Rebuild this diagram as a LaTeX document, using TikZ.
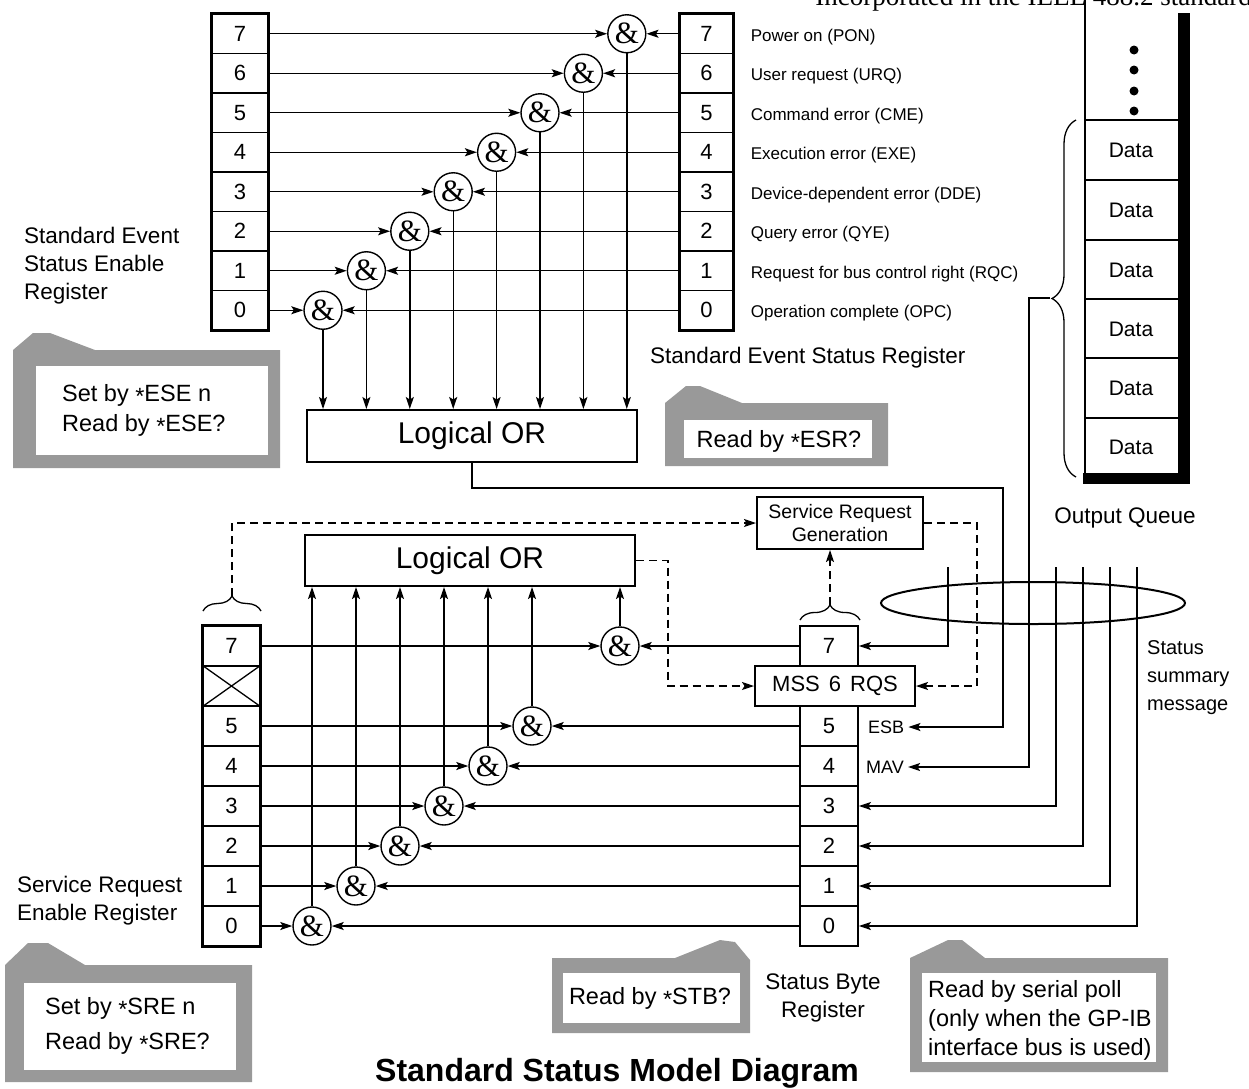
\documentclass[tikz,border=0pt]{standalone}
\usepackage{fontspec}
\setmainfont{Liberation Sans}
\newfontfamily\seriffont{Liberation Serif}
\usetikzlibrary{arrows.meta,decorations.pathreplacing,calc}
\begin{document}
\begin{tikzpicture}[x=1pt,y=-1pt,
  ln/.style={line width=1.4pt},
  arr/.style={line width=1.4pt,-{Stealth[length=12pt,width=8pt,inset=2.5pt]}},
  dsh/.style={line width=1.4pt,dash pattern=on 8pt off 5pt},
  darr/.style={dsh,-{Stealth[length=12pt,width=8pt,inset=2.5pt]}},
  cellbox/.style={draw,line width=1.3pt,minimum height=39.5pt,inner sep=0pt,font=\fontsize{22}{22}\selectfont},
  gate/.style={circle,draw,line width=1.4pt,minimum size=38pt,inner sep=0pt,font=\seriffont\fontsize{31}{31}\selectfont},
  orbox/.style={draw,line width=2pt,minimum width=330pt,minimum height=52pt,inner sep=0pt,font=\fontsize{30}{30}\selectfont},
  lbl/.style={inner sep=0pt,font=\fontsize{22.5}{28}\selectfont,align=left},
  small/.style={anchor=west,inner sep=0pt,font=\fontsize{17}{17}\selectfont},
  tagtext/.style={inner sep=0pt,font=\fontsize{23.5}{29}\selectfont,align=left},
  tagfill/.style={fill=black!40},
  brc/.style={decorate,decoration={brace,amplitude=15pt},line width=1.3pt}
]
\useasboundingbox (0,0) rectangle (1249,1088);

% header (cut off at top, as in the source)
\node[anchor=base east,inner sep=0pt,font=\seriffont\fontsize{27}{27}\selectfont] (hdr) at (1252,5) {Incorporated in the IEEE 488.2 standard};

% ---------- tags ----------
\fill[tagfill] (13,468) -- (13,350) -- (33,333) -- (50,333) -- (95,350) -- (280,350) -- (280,468) -- cycle;
\fill[white] (36,366) rectangle (268,455);
\fill[tagfill] (665,466) -- (665,403) -- (686,386) -- (700,386) -- (742,403) -- (888,403) -- (888,466) -- cycle;
\fill[white] (684,420) rectangle (872,458);
\fill[tagfill] (5,1082) -- (5,965) -- (28,943) -- (48,943) -- (85,965) -- (252,965) -- (252,1082) -- cycle;
\fill[white] (24,983) rectangle (236,1070);
\fill[tagfill] (552,1033) -- (552,958) -- (675,958) -- (720,940) -- (735,942) -- (750,960) -- (750,1033) -- cycle;
\fill[white] (563,973) rectangle (740,1023);
\fill[tagfill] (910,1072) -- (910,958) -- (948,940) -- (962,940) -- (985,958) -- (1168,958) -- (1168,1072) -- cycle;
\fill[white] (922,973) rectangle (1156,1062);

\node[tagtext,anchor=west] (t1a) at (62,395) {Set by \raisebox{-0.25ex}{*}ESE n};
\node[tagtext,anchor=west] (t1b) at (62,425) {Read by \raisebox{-0.25ex}{*}ESE?};
\node[tagtext] (t2) at (779,441) {Read by \raisebox{-0.25ex}{*}ESR?};
\node[tagtext,anchor=west] (t3a) at (45,1008) {Set by \raisebox{-0.25ex}{*}SRE n};
\node[tagtext,anchor=west] (t3b) at (45,1043) {Read by \raisebox{-0.25ex}{*}SRE?};
\node[tagtext] (t4) at (650,998) {Read by \raisebox{-0.25ex}{*}STB?};
\node[tagtext,anchor=west] (t5) at (928,1020) {Read by serial poll\\(only when the GP-IB\\interface bus is used)};

% ---------- upper part ----------
\node[orbox] (uor) at (472,436) {Logical OR};
\foreach \k in {0,...,7} {
  \pgfmathsetmacro\yy{33.75+39.5*(7-\k)}
  \pgfmathsetmacro\gx{323+43.4*\k}
  \node[cellbox,minimum width=56pt] (ese\k) at (240,\yy) {\k};
  \node[cellbox,minimum width=53pt] (esr\k) at (706.5,\yy) {\k};
  \node[gate] (ug\k) at (\gx,\yy) {\&};
}
\draw[line width=2.2pt] (ese7.north west) rectangle (ese0.south east);
\draw[line width=2.2pt] (esr7.north west) rectangle (esr0.south east);
\foreach \k in {0,...,7} {
  \draw[arr] (ese\k.east) -- (ug\k.west);
  \draw[arr] (esr\k.west) -- (ug\k.east);
  \draw[arr] (ug\k.south) -- (ug\k.south |- uor.north);
}
\foreach \k/\t in {7/Power on (PON),6/User request (URQ),5/Command error (CME),4/Execution error (EXE),3/Device-dependent error (DDE),2/Query error (QYE),1/Request for bus control right (RQC),0/Operation complete (OPC)} {
  \node[small] (ev\k) at ($(esr\k.east)+(17,3)$) {\t};
}
\node[lbl,anchor=west] (eselbl) at (24,266) {Standard Event\\Status Enable\\Register};
\node[lbl,anchor=west] (esrlbl) at (650,358) {Standard Event Status Register};

% ---------- output queue ----------
\fill (1178,13) rectangle (1190,484);
\fill (1083,473) rectangle (1190,484);
\draw[ln] (1085,0) -- (1085,476);
\foreach \yy in {50,70,91,111} { \fill (1134,\yy) circle (4.5pt); }
\foreach \yy in {120,180,240,299,358,418} { \draw[ln] (1085,\yy) -- (1178,\yy); }
\foreach \i/\yy in {1/150,2/210,3/270,4/329,5/388,6/447} {
  \node[inner sep=0pt,font=\fontsize{21}{21}\selectfont] (d\i) at (1131,\yy) {Data};
}
\draw[decorate,decoration={brace,amplitude=24pt},line width=1.3pt] (1076,477) -- (1076,120);
\coordinate (qtip) at (1050,298);
\node[lbl] (oq) at (1125,518) {Output Queue};

% ---------- lower part ----------
\node[orbox,minimum height=51pt] (lor) at (470,560.5) {Logical OR};
\node[draw,line width=2pt,minimum width=166pt,minimum height=52pt,inner sep=0pt,align=center,font=\fontsize{19.5}{23}\selectfont] (srg) at (840,523) {Service Request\\Generation};

\foreach \k in {0,...,7} {
  \pgfmathsetmacro\yy{646+40*(7-\k)}
  \node[cellbox,minimum width=57pt,minimum height=40pt] (sre\k) at (231.5,\yy) {\ifnum\k=6\else\k\fi};
}
\draw[line width=1.3pt] (sre6.north west) -- (sre6.south east) (sre6.north east) -- (sre6.south west);
\draw[line width=2.2pt] (sre7.north west) rectangle (sre0.south east);

\foreach \k in {7,5,4,3,2,1,0} {
  \pgfmathsetmacro\yy{646+40*(7-\k)}
  \node[cellbox,minimum width=58pt,minimum height=40pt,line width=1.8pt] (sb\k) at (829,\yy) {\k};
}
\node[cellbox,minimum width=160pt,minimum height=40pt,line width=2pt] (mss) at (835,686) {MSS\hspace{9pt}6\hspace{9pt}RQS};

\foreach \k in {0,...,5,7} {
  \pgfmathsetmacro\yy{646+40*(7-\k)}
  \pgfmathsetmacro\gx{312+44*\k}
  \node[gate] (lg\k) at (\gx,\yy) {\&};
}
\foreach \k in {0,...,5,7} {
  \draw[arr] (sre\k.east) -- (lg\k.west);
  \draw[arr] (sb\k.west) -- (lg\k.east);
  \draw[arr] (lg\k.north) -- (lg\k.north |- lor.south);
}

% braces and dashed lines
\draw[brc] (203,611) -- (261,611);
\coordinate (btip1) at (232,596);
\draw[darr] (btip1) |- (srg.west);
\draw[brc] (800,620) -- (860,620);
\coordinate (btip2) at (830,605);
\draw[darr] (btip2) -- (btip2 |- srg.south);
\draw[darr] (lor.east) -- ++(32,0) |- (mss.west);
\draw[darr] (srg.east) -- ++(53,0) |- (mss.east);

% status summary lines
\draw[line width=2pt] (1033,603) ellipse [x radius=152, y radius=21];
\node[small,font=\fontsize{18}{18}\selectfont] (esb) at (868,727) {ESB};
\node[small,font=\fontsize{18}{18}\selectfont] (mav) at (866,767) {MAV};
\coordinate (ucorner) at (1003,488);
\draw[arr] (uor.south) |- (ucorner) |- ($(esb.east)+(4,0)$);
\draw[arr] (qtip) -- (1029,298) |- ($(mav.east)+(4,0)$);
\coordinate (l7) at (948,567);
\coordinate (l3) at (1056,567);
\coordinate (l2) at (1083,567);
\coordinate (l1) at (1110,567);
\coordinate (l0) at (1137,567);
\draw[arr] (l7) |- (sb7.east);
\draw[arr] (l3) |- (sb3.east);
\draw[arr] (l2) |- (sb2.east);
\draw[arr] (l1) |- (sb1.east);
\draw[arr] (l0) |- (sb0.east);

\node[lbl,anchor=west,font=\fontsize{20}{28}\selectfont] (ssm) at (1147,678) {Status\\summary\\message};

% labels
\node[lbl,anchor=west] (srelbl) at (17,901) {Service Request\\Enable Register};
\node[lbl,align=center] (sblbl) at (823,998) {Status Byte\\Register};
\node[inner sep=0pt,font=\bfseries\fontsize{32}{32}\selectfont] (title) at (617,1073) {Standard Status Model Diagram};
\end{tikzpicture}
\end{document}
